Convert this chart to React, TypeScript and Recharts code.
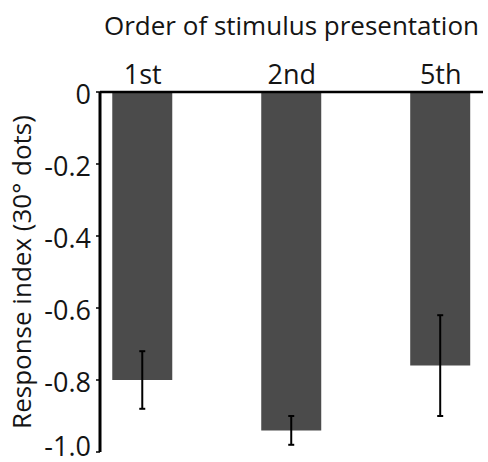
import React from "react";
import { ComposedChart, Bar, XAxis, YAxis, ErrorBar, Label } from "recharts";

const categories = ["1st", "2nd", "5th"];
const means = [-0.8, -0.94, -0.76];
const errors = [0.08, 0.04, 0.14];
const yTicks = [-1.0, -0.8, -0.6, -0.4, -0.2, 0];

const data = categories.map((c, i) => ({
  pos: i + 1,
  label: c,
  mean: means[i],
  err: errors[i],
}));

const FONT = "'Open Sans', 'Noto Sans', sans-serif";
const TEXT = "#141414";
const TICK_FS = 27;

const YTick = (props: any) => {
  const { x, y, payload } = props;
  const v = payload.value as number;
  const shift = v === -1 ? -6 : 2;
  return (
    <text
      x={x}
      y={y}
      dy={TICK_FS * 0.355 + shift}
      textAnchor="end"
      style={{ fontSize: TICK_FS, fill: TEXT, fontFamily: FONT }}
    >
      {v === 0 ? "0" : v.toFixed(1)}
    </text>
  );
};

export default function App() {
  return (
    <div style={{ position: "absolute", left: 0, top: 0 }}>
      <ComposedChart
        width={488}
        height={462}
        data={data}
        margin={{ top: 0, right: 5, left: 0, bottom: 10 }}
        style={{ fontFamily: FONT }}
      >
        <XAxis
          dataKey="pos"
          type="number"
          orientation="top"
          domain={[0.713, 3.284]}
          allowDataOverflow
          ticks={[1, 2, 3]}
          interval={0}
          tickFormatter={(v: number) => categories[v - 1] ?? ""}
          height={92}
          axisLine={{ stroke: "#000", strokeWidth: 2.5 }}
          tickLine={false}
          tickSize={0}
          tickMargin={8}
          tick={{ fontSize: TICK_FS, fill: TEXT, fontFamily: FONT }}
        >
          <Label
            value="Order of stimulus presentation"
            position="insideTop"
            offset={17}
            style={{ fontSize: 26, fill: TEXT, fontFamily: FONT }}
          />
        </XAxis>
        <YAxis
          type="number"
          domain={[-1, 0]}
          ticks={yTicks}
          interval={0}
          width={100}
          axisLine={{ stroke: "#000", strokeWidth: 3 }}
          tickLine={{ stroke: "#000", strokeWidth: 1.5 }}
          tickSize={4}
          tickMargin={5}
          tick={<YTick />}
        >
          <Label
            content={(props: any) => {
              const vb = props.viewBox || { x: 0, y: 92, width: 100, height: 360 };
              const cx = vb.x + 22;
              const cy = vb.y + vb.height / 2;
              return (
                <text
                  x={cx}
                  y={cy}
                  dy="0.355em"
                  transform={`rotate(-90 ${cx} ${cy})`}
                  textAnchor="middle"
                  style={{ fontSize: 26, fill: TEXT, fontFamily: FONT }}
                >
                  Response index (30° dots)
                </text>
              );
            }}
          />
        </YAxis>
        <Bar dataKey="mean" fill="#4b4b4b" barSize={60} isAnimationActive={false}>
          <ErrorBar dataKey="err" width={3} stroke="#000" strokeWidth={2} direction="y" />
        </Bar>
      </ComposedChart>
    </div>
  );
}
